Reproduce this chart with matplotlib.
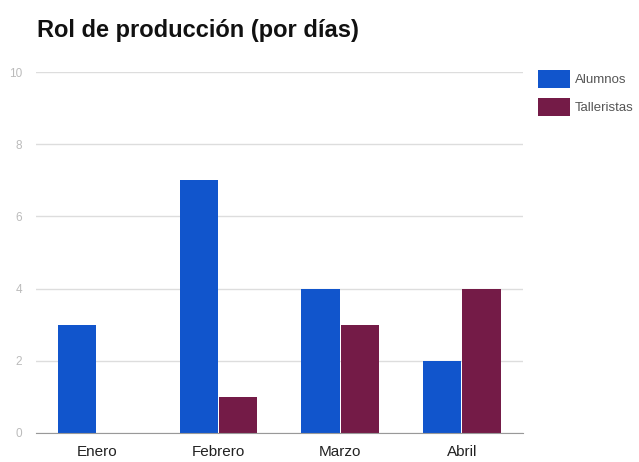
import numpy as np
import matplotlib.pyplot as plt
from matplotlib.patches import Patch

plt.rcParams['font.family'] = ['Liberation Sans', 'DejaVu Sans']

meses = ["Enero", "Febrero", "Marzo", "Abril"]
alumnos = [3, 7, 4, 2]
talleristas = [0, 1, 3, 4]
series = ["Alumnos", "Talleristas"]
colores = ["#1155CC", "#741B47"]

fig = plt.figure(figsize=(6.39, 4.62), dpi=100)
ax = fig.add_axes([0.056, 0.063, 0.762, 0.781])

x = np.arange(len(meses))
w = 0.315
ax.bar(x - w / 2 - 0.004, alumnos, w, color=colores[0], zorder=3)
ax.bar(x + w / 2 + 0.004, talleristas, w, color=colores[1], zorder=3)

ax.set_xlim(-0.5, 3.5)
ax.set_ylim(0, 10)
ax.set_yticks([0, 2, 4, 6, 8, 10])
ax.set_xticks(x)
ax.set_xticklabels(meses, fontsize=11, color="#222222")
ax.tick_params(axis="y", labelsize=8.5, labelcolor="#bbbbbb", length=0, pad=10)
ax.tick_params(axis="x", length=0, pad=9)
ax.grid(axis="y", color="#dddddd", linewidth=1, zorder=0)
for s in ["top", "right", "left"]:
    ax.spines[s].set_visible(False)
ax.spines["bottom"].set_color("#999999")
ax.spines["bottom"].set_zorder(4)

fig.text(0.058, 0.935, "Rol de producción (por días)", fontsize=17,
         fontweight="bold", va="center", ha="left", color="#111111")

handles = [Patch(facecolor=c, edgecolor="none") for c in colores]
leg = fig.legend(handles, series, loc="upper left", bbox_to_anchor=(0.842, 0.848),
                 frameon=False, fontsize=9.5, handlelength=2.4, handleheight=1.7,
                 labelspacing=0.75, handletextpad=0.4, borderpad=0, borderaxespad=0)
for t in leg.get_texts():
    t.set_color("#555555")

fig.savefig("out.png", dpi=100)
